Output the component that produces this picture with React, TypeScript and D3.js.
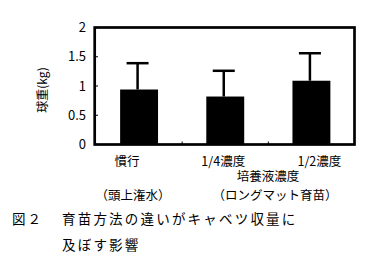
import React from "react";
import * as d3 from "d3";

const categories = ["慣行", "1/4濃度", "1/2濃度"];
const means = [0.94, 0.82, 1.09];
const errorTops = [1.39, 1.26, 1.56];
const yTicks = [0, 0.5, 1, 1.5, 2];
const yTickLabels = ["0", "0.5", "1", "1.5", "2"];
const yAxisTitle = "球重(kg)";
const xSubTitle = "培養液濃度";
const groupNotes = ["（頭上潅水）", "（ロングマット育苗）"];
const captionHead = "図２";
const captionLine1 = "育苗方法の違いがキャベツ収量に";
const captionLine2 = "及ぼす影響";

const W = 370;
const H = 263;
const left = 96;
const right = 354.5;
const top = 27.5;
const bottom = 144.5;
const font = "'Noto Sans CJK JP', 'Noto Sans', sans-serif";

export default function App() {
  const x = d3.scaleBand<string>().domain(categories).range([left, right]).paddingInner(0.56).paddingOuter(0.28);
  const y = d3.scaleLinear().domain([0, 2]).range([bottom, top]);
  const bw = x.bandwidth();
  const bandW = (right - left) / categories.length;
  const labelOffsets = [-12, -2, 8];
  return (
    <svg width={W} height={H} style={{ position: "absolute", left: 0, top: 0, background: "#fff" }}>
      <rect x={0} y={0} width={W} height={H} fill="#fff" />
      {categories.map((c, i) => (
        <rect key={c} x={x(c)!} y={y(means[i])} width={bw} height={y(0) - y(means[i])} fill="#000" />
      ))}
      {categories.map((c, i) => {
        const cx = x(c)! + bw / 2 - 1.5;
        return (
          <g key={"e" + c}>
            <line x1={cx} x2={cx} y1={y(means[i])} y2={y(errorTops[i])} stroke="#000" strokeWidth={2.5} />
            <line x1={cx - 11} x2={cx + 11} y1={y(errorTops[i])} y2={y(errorTops[i])} stroke="#000" strokeWidth={2.5} />
          </g>
        );
      })}
      {yTicks.map((t) => (
        <line key={"t" + t} x1={left} x2={left + 2} y1={y(t)} y2={y(t)} stroke="#000" strokeWidth={1} />
      ))}
      {[1, 2].map((k) => {
        const px = left + bandW * k;
        return <line key={"xt" + k} x1={px} x2={px} y1={bottom} y2={bottom - 3} stroke="#000" strokeWidth={1} />;
      })}
      <rect x={left - 1.3} y={top} width={right - left + 1.3} height={bottom - top} fill="none" stroke="#000" strokeWidth={2.7} />
      {yTicks.map((t, i) => (
        <text key={"l" + t} x={86} y={y(t)} dy="0.36em" textAnchor="end" fontFamily={font} fontSize={13} fill="#000">
          {yTickLabels[i]}
        </text>
      ))}
      <text transform={`translate(47,${y(1) + 4}) rotate(-90)`} textAnchor="middle" fontFamily={font} fontSize={12} fill="#000">
        {yAxisTitle}
      </text>
      {categories.map((c, i) => (
        <text key={"c" + c} x={x(c)! + bw / 2 + labelOffsets[i]} y={161} dy="0.36em" textAnchor="middle" fontFamily={font} fontSize={12.5} fill="#000">
          {c}
        </text>
      ))}
      <text x={268} y={176} dy="0.36em" textAnchor="middle" fontFamily={font} fontSize={12.5} fill="#000">
        {xSubTitle}
      </text>
      <text x={133} y={195} dy="0.36em" textAnchor="middle" fontFamily={font} fontSize={12.5} fill="#000">
        {groupNotes[0]}
      </text>
      <text x={275} y={195} dy="0.36em" textAnchor="middle" fontFamily={font} fontSize={12.5} fill="#000">
        {groupNotes[1]}
      </text>
      <text x={12} y={219} dy="0.36em" fontFamily={font} fontSize={13.5} letterSpacing={2} fill="#000">
        {captionHead}
      </text>
      <text x={62} y={219} dy="0.36em" fontFamily={font} fontSize={13.5} letterSpacing={2.2} fill="#000">
        {captionLine1}
      </text>
      <text x={62} y={245} dy="0.36em" fontFamily={font} fontSize={13.5} letterSpacing={2.2} fill="#000">
        {captionLine2}
      </text>
    </svg>
  );
}
